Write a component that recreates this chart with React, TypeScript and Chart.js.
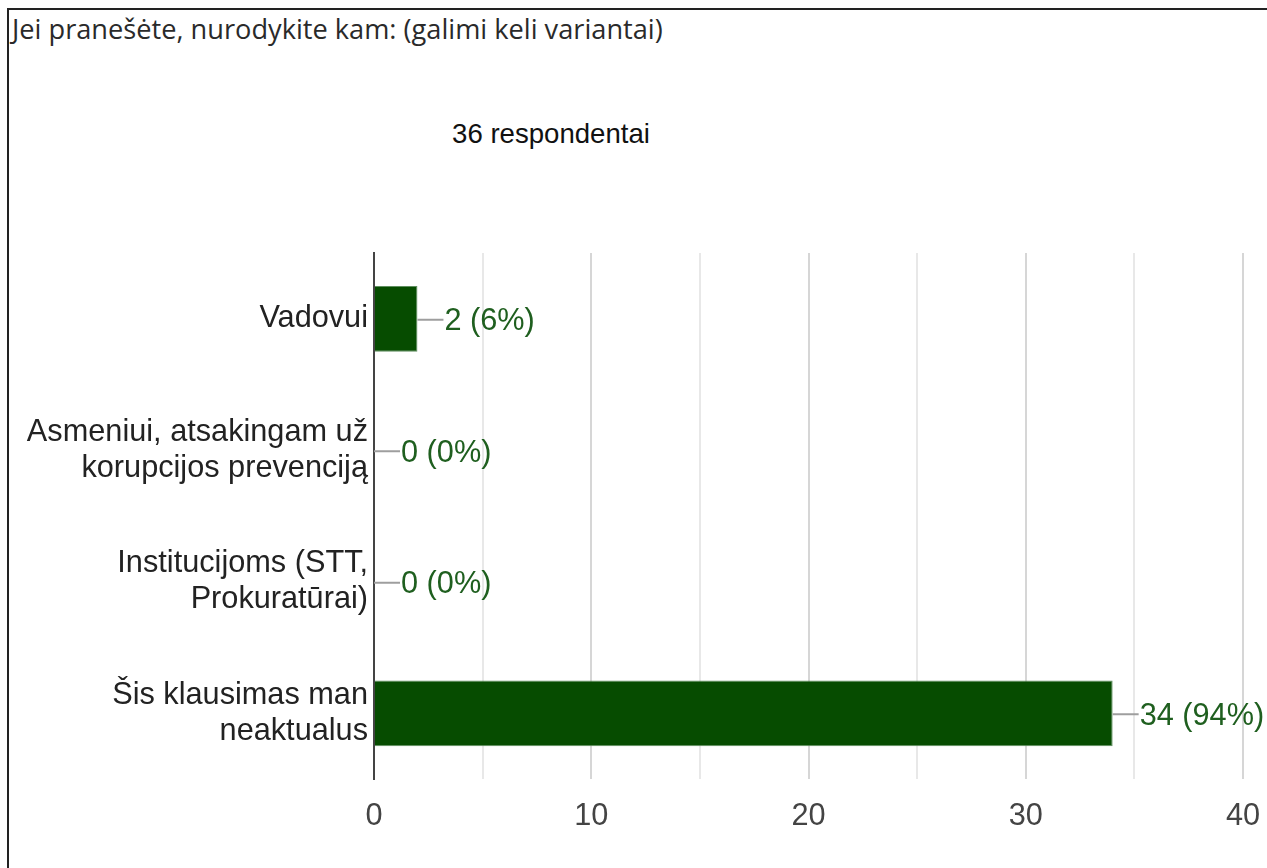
import React, { useEffect, useRef } from "react";
import { Chart, registerables } from "chart.js";

Chart.register(...registerables);

const questionTitle = "Jei pranešėte, nurodykite kam: (galimi keli variantai)";
const respondentsLabel = "36 respondentai";
const totalRespondents = 36;
const categories: string[][] = [
  ["Vadovui"],
  ["Asmeniui, atsakingam už", "korupcijos prevenciją"],
  ["Institucijoms (STT,", "Prokuratūrai)"],
  ["Šis klausimas man", "neaktualus"],
];
const counts = [2, 0, 0, 34];
const xTicks = [0, 10, 20, 30, 40];

const FONT = "'Liberation Sans', Arial, sans-serif";

const annotationPlugin = {
  id: "barAnnotations",
  afterDatasetsDraw(chart: any) {
    const ctx = chart.ctx;
    const meta = chart.getDatasetMeta(0);
    ctx.save();
    meta.data.forEach((bar: any, i: number) => {
      const v = counts[i];
      const pct = Math.round((v / totalRespondents) * 100);
      const x = bar.x;
      const y = bar.y + 1;
      ctx.strokeStyle = "#9e9e9e";
      ctx.lineWidth = 2;
      ctx.beginPath();
      ctx.moveTo(x, y);
      ctx.lineTo(x + 26, y);
      ctx.stroke();
      ctx.fillStyle = "#1f5f1f";
      ctx.font = `30.7px ${FONT}`;
      ctx.textAlign = "left";
      ctx.textBaseline = "middle";
      ctx.fillText(`${v} (${pct}%)`, x + 27, y + 2);
    });
    ctx.restore();
  },
};

export default function App() {
  const canvasRef = useRef<HTMLCanvasElement | null>(null);

  useEffect(() => {
    document.body.style.margin = "0";
    document.body.style.overflow = "hidden";
    const canvas = canvasRef.current;
    if (!canvas) return;
    const chart = new Chart(canvas, {
      type: "bar",
      data: {
        labels: categories,
        datasets: [
          {
            data: counts,
            backgroundColor: "#064c00",
            borderColor: "#5f8f5f",
            borderWidth: 1,
            categoryPercentage: 1,
            barPercentage: 0.5,
          },
        ],
      },
      options: {
        indexAxis: "y",
        animation: false,
        responsive: false,
        maintainAspectRatio: false,
        layout: { padding: { top: 253, right: 24, bottom: 0, left: 0 } },
        plugins: {
          legend: { display: false },
          tooltip: { enabled: false },
          title: { display: false },
        },
        scales: {
          x: {
            min: 0,
            max: 40,
            ticks: {
              stepSize: 5,
              color: "#444",
              font: { family: FONT, size: 30.7 },
              padding: 19,
              callback: (v: any) => (xTicks.includes(Number(v)) ? String(v) : ""),
            },
            grid: {
              drawTicks: false,
              lineWidth: 2,
              color: (c: any) => {
                const v = c.tick ? c.tick.value : 0;
                if (v === 0) return "#444";
                return v % 10 === 0 ? "#d6d6d6" : "#e8e8e8";
              },
            },
            border: { display: false },
            afterFit: (s: any) => {
              s.height = 89;
              s.paddingLeft = 0;
              s.paddingRight = 0;
            },
          },
          y: {
            ticks: {
              color: "#222",
              font: { family: FONT, size: 30.7, lineHeight: 1.18 },
              padding: 6,
            },
            grid: { display: false, drawTicks: false },
            border: { display: true, color: "#444", width: 2 },
            afterFit: (s: any) => {
              s.width = 374;
              s.paddingTop = 0;
              s.paddingBottom = 0;
            },
          },
        },
      },
      plugins: [annotationPlugin],
    });
    return () => chart.destroy();
  }, []);

  return (
    <div style={{ position: "absolute", left: 0, top: 0, width: 1267, height: 868, overflow: "hidden", background: "#fff" }}>
      <div
        style={{
          position: "absolute",
          left: 7,
          top: 8,
          width: 1300,
          height: 900,
          borderLeft: "2px solid #222",
          borderTop: "2px solid #222",
          boxSizing: "border-box",
        }}
      />
      <div
        style={{
          position: "absolute",
          left: 12,
          top: 9,
          fontFamily: "'Open Sans', 'Noto Sans', sans-serif",
          fontSize: 27.2,
          lineHeight: "40px",
          color: "#2a2a2a",
          whiteSpace: "nowrap",
        }}
      >
        {questionTitle}
      </div>
      <div
        style={{
          position: "absolute",
          left: 351,
          width: 400,
          top: 116,
          textAlign: "center",
          fontFamily: FONT,
          fontSize: 27.6,
          lineHeight: "36px",
          color: "#111",
          whiteSpace: "nowrap",
        }}
      >
        {respondentsLabel}
      </div>
      <canvas ref={canvasRef} width={1267} height={868} style={{ position: "absolute", left: 0, top: 0 }} />
    </div>
  );
}
